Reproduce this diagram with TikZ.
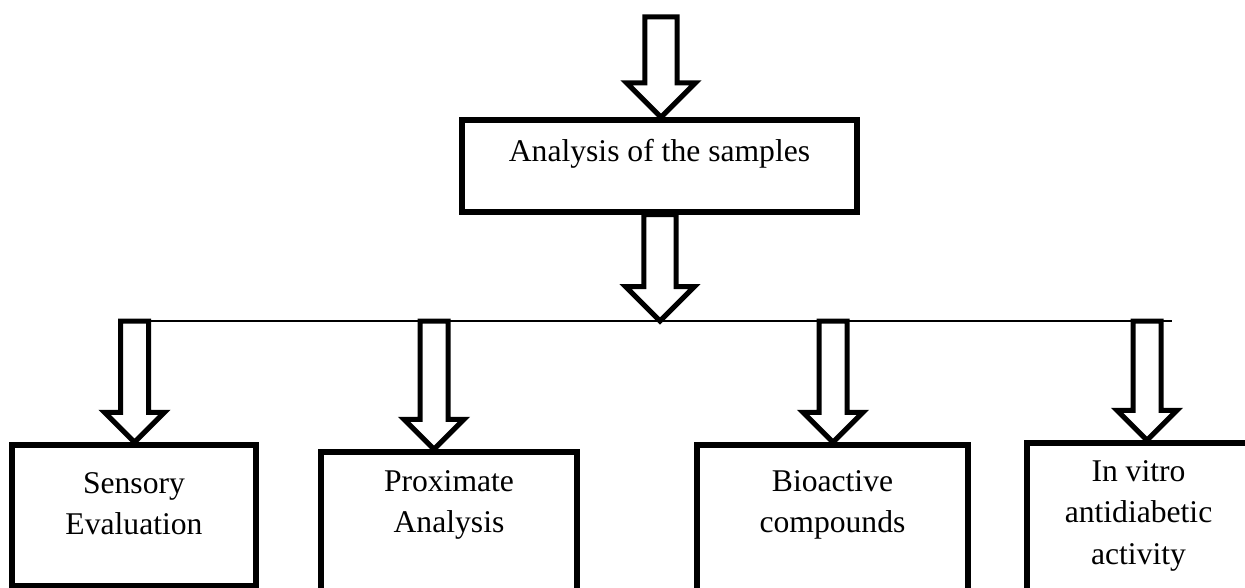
\documentclass[tikz,border=0pt]{standalone}
\usepackage{fontspec}
\setmainfont{Liberation Serif}
\usetikzlibrary{positioning, calc}
\tikzset{
x=0.02cm, y=-0.02cm, % one unit per pixel, y grows downwards
box/.style={draw, line width=0.11cm, inner sep=0pt}, % the frames
lbl/.style={align=center, inner sep=0pt, font=\fontsize{18}{23.5}\selectfont},
hollow/.style={draw, fill=white, line width=0.1cm, line join=miter}, % block arrows
bus/.style={line width=0.045cm},
}
% hollow block arrow: #1 size factor, #2 top of the shaft, #3 tip
\newcommand{\blockarrow}[3][1]{%
  \draw[hollow] ($(#3 |- #2)+(-14*#1,0)$) -- ($(#3)+(-14*#1,-30*#1)$)
    -- ($(#3)+(-30*#1,-30*#1)$) -- (#3) -- ($(#3)+(30*#1,-30*#1)$)
    -- ($(#3)+(14*#1,-30*#1)$) -- ($(#3 |- #2)+(14*#1,0)$) -- cycle;}

\begin{document}
\begin{tikzpicture}
  \useasboundingbox (0,0) rectangle (1245,588);
  \clip (0,0) rectangle (1245,588);

  \node[box, minimum width=7.9cm, minimum height=1.84cm] (main) at (659.5,166) {};
  \node[box, minimum width=4.88cm, minimum height=2.82cm] (sens) at (134,515.5) {};
  \node[box, minimum width=5.12cm, minimum height=2.96cm] (prox) at (449,526) {};
  \node[box, minimum width=5.42cm, minimum height=3.10cm] (bio) at (832.5,522.5) {};
  \node[box, minimum width=4.46cm, minimum height=3.14cm] (vitro) at (1138.5,521.5) {};

  \node[lbl, below=0.44cm of main.north] (mainlbl) {Analysis of the samples};
  \node[lbl, below=0.6cm of sens.north] (senslbl) {Sensory\\Evaluation};
  \node[lbl, below=0.42cm of prox.north] (proxlbl) {Proximate\\Analysis};
  \node[lbl, below=0.56cm of bio.north] (biolbl) {Bioactive\\compounds};
  \node[lbl, below=0.4cm of vitro.north] (vitrolbl) {In vitro\\antidiabetic\\activity};

  % the line that feeds the four boxes
  \coordinate (busL) at (148,321);
  \coordinate (busR) at (1172,321);
  \coordinate (hub) at (660,321);
  \coordinate (b1) at (134.5,321);
  \coordinate (b2) at (434,321);
  \coordinate (b3) at (833,321);
  \coordinate (b4) at (1147,321);
  \draw[bus] (busL) -- (busR);

  \coordinate (in) at (661,17);
  \coordinate (t0) at (in |- main.north);
  \coordinate (t1) at (b1 |- sens.north);
  \coordinate (t2) at (b2 |- prox.north);
  \coordinate (t3) at (b3 |- bio.north);
  \coordinate (t4) at (b4 |- vitro.north);

  \blockarrow[1.15]{in}{t0}
  \blockarrow[1.15]{main.south}{hub}
  \blockarrow{b1}{t1}
  \blockarrow{b2}{t2}
  \blockarrow{b3}{t3}
  \blockarrow{b4}{t4}
\end{tikzpicture}
\end{document}
